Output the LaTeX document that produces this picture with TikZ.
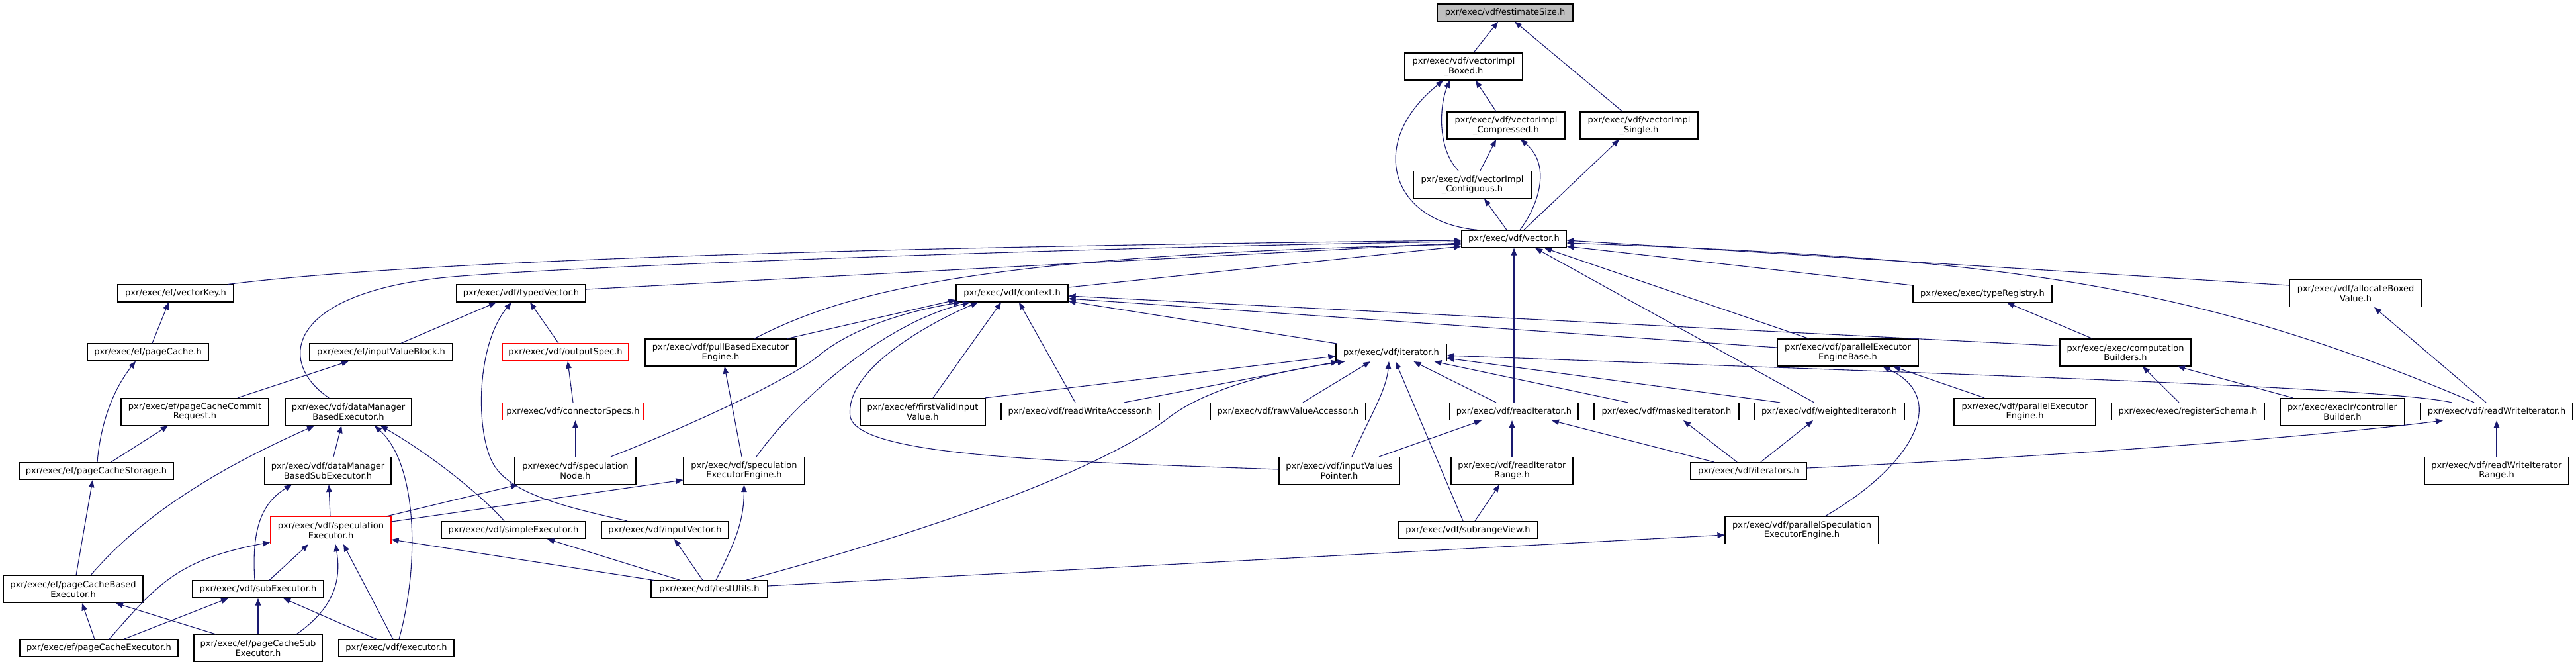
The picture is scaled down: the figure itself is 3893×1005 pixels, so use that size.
\documentclass[tikz,border=0pt]{standalone}
\usepackage{fontspec}
\setmainfont{DejaVu Sans}
\usetikzlibrary{arrows.meta,calc}
\definecolor{eblue}{RGB}{25,25,112}
\definecolor{rootgray}{RGB}{191,191,191}
\begin{document}
\begin{tikzpicture}[x=1pt,y=-1pt,
  nbox/.style={draw=black, line width=1.2pt, fill=white, inner sep=1pt, align=center,
    font=\fontsize{13}{14.5}\selectfont, minimum height=26pt},
  two/.style={minimum height=41pt},
  redbox/.style={draw=red},
  conn/.style={draw=eblue, line width=1.1pt, -{Triangle[length=11pt,width=8.5pt]}}]
\fill[white] (0,0) rectangle (3893,1005);
\useasboundingbox (0,0) rectangle (3893,1005);

% ---- nodes ----
\node[nbox,fill=rootgray,minimum width=205pt] (est) at (2274.5,19) {pxr/exec/vdf/estimateSize.h};
\node[nbox,two,minimum width=178pt] (boxed) at (2212,100.5) {pxr/exec/vdf/vectorImpl\\\_Boxed.h};
\node[nbox,two,minimum width=178pt] (compr) at (2276,189.5) {pxr/exec/vdf/vectorImpl\\\_Compressed.h};
\node[nbox,two,minimum width=178pt] (single) at (2477,189.5) {pxr/exec/vdf/vectorImpl\\\_Single.h};
\node[nbox,two,minimum width=178pt] (contig) at (2225,279) {pxr/exec/vdf/vectorImpl\\\_Contiguous.h};
\node[nbox,minimum width=158pt] (vector) at (2288,361) {pxr/exec/vdf/vector.h};

\node[nbox,minimum width=175pt] (vkey) at (265.5,443) {pxr/exec/ef/vectorKey.h};
\node[nbox,minimum width=195pt] (typed) at (787.5,443) {pxr/exec/vdf/typedVector.h};
\node[nbox,minimum width=169pt] (context) at (1529.5,443) {pxr/exec/vdf/context.h};
\node[nbox,minimum width=210pt] (typereg) at (2996,443.5) {pxr/exec/exec/typeRegistry.h};
\node[nbox,two,minimum width=200pt] (alloc) at (3560,443) {pxr/exec/vdf/allocateBoxed\\Value.h};

\node[nbox,minimum width=183pt] (pagecache) at (223.5,532) {pxr/exec/ef/pageCache.h};
\node[nbox,minimum width=216pt] (ivb) at (576,532) {pxr/exec/ef/inputValueBlock.h};
\node[nbox,redbox,minimum width=191pt] (outspec) at (854.5,532) {pxr/exec/vdf/outputSpec.h};
\node[nbox,two,minimum width=228pt] (pull) at (1089,532.5) {pxr/exec/vdf/pullBasedExecutor\\Engine.h};
\node[nbox,minimum width=167pt] (iter) at (2102.5,532.5) {pxr/exec/vdf/iterator.h};
\node[nbox,two,minimum width=213pt] (peebase) at (2792.5,532.5) {pxr/exec/vdf/parallelExecutor\\EngineBase.h};
\node[nbox,two,minimum width=198pt] (compb) at (3212,532.5) {pxr/exec/exec/computation\\Builders.h};

\node[nbox,two,minimum width=223pt] (commit) at (294.5,622) {pxr/exec/ef/pageCacheCommit\\Request.h};
\node[nbox,two,minimum width=191pt] (dmbe) at (526.5,622) {pxr/exec/vdf/dataManager\\BasedExecutor.h};
\node[nbox,redbox,minimum width=213pt] (connspec) at (866,621.5) {pxr/exec/vdf/connectorSpecs.h};
\node[nbox,two,minimum width=189pt] (firstvalid) at (1394.5,622) {pxr/exec/ef/firstValidInput\\Value.h};
\node[nbox,minimum width=239pt] (rwacc) at (1632.5,621.5) {pxr/exec/vdf/readWriteAccessor.h};
\node[nbox,minimum width=235pt] (rawacc) at (1946.5,621.5) {pxr/exec/vdf/rawValueAccessor.h};
\node[nbox,minimum width=194pt] (readiter) at (2288,621.5) {pxr/exec/vdf/readIterator.h};
\node[nbox,minimum width=219pt] (masked) at (2518.5,621.5) {pxr/exec/vdf/maskedIterator.h};
\node[nbox,minimum width=227pt] (weighted) at (2764.5,621.5) {pxr/exec/vdf/weightedIterator.h};
\node[nbox,two,minimum width=214pt] (peeng) at (3060,622) {pxr/exec/vdf/parallelExecutor\\Engine.h};
\node[nbox,minimum width=231pt] (regschema) at (3306.5,621.5) {pxr/exec/exec/registerSchema.h};
\node[nbox,two,minimum width=188pt] (ctrlb) at (3540,622) {pxr/exec/execIr/controller\\Builder.h};
\node[nbox,minimum width=230pt] (rwiter) at (3773,621.5) {pxr/exec/vdf/readWriteIterator.h};

\node[nbox,minimum width=233pt] (pcstorage) at (145.5,711.5) {pxr/exec/ef/pageCacheStorage.h};
\node[nbox,two,minimum width=191pt] (dmbse) at (495.5,711) {pxr/exec/vdf/dataManager\\BasedSubExecutor.h};
\node[nbox,two,minimum width=183pt] (specnode) at (869.5,711) {pxr/exec/vdf/speculation\\Node.h};
\node[nbox,two,minimum width=183pt] (specee) at (1124.5,711) {pxr/exec/vdf/speculation\\ExecutorEngine.h};
\node[nbox,two,minimum width=182pt] (ivp) at (2024,711) {pxr/exec/vdf/inputValues\\Pointer.h};
\node[nbox,two,minimum width=184pt] (riterrange) at (2285,711) {pxr/exec/vdf/readIterator\\Range.h};
\node[nbox,minimum width=175pt] (iters) at (2642.5,711.5) {pxr/exec/vdf/iterators.h};
\node[nbox,two,minimum width=218pt] (rwrange) at (3773,711) {pxr/exec/vdf/readWriteIterator\\Range.h};

\node[nbox,two,redbox,minimum width=182pt] (specexec) at (500,801) {pxr/exec/vdf/speculation\\Executor.h};
\node[nbox,minimum width=218pt] (simple) at (776,800.5) {pxr/exec/vdf/simpleExecutor.h};
\node[nbox,minimum width=192pt] (ivec) at (1005,800.5) {pxr/exec/vdf/inputVector.h};
\node[nbox,minimum width=211pt] (subrange) at (2218.5,800.5) {pxr/exec/vdf/subrangeView.h};
\node[nbox,two,minimum width=232pt] (parspec) at (2723,801) {pxr/exec/vdf/parallelSpeculation\\ExecutorEngine.h};

\node[nbox,two,minimum width=211pt] (pcbe) at (110.5,890) {pxr/exec/ef/pageCacheBased\\Executor.h};
\node[nbox,minimum width=198pt] (subexec) at (390,890) {pxr/exec/vdf/subExecutor.h};
\node[nbox,minimum width=176pt] (testutils) at (1072,890) {pxr/exec/vdf/testUtils.h};

\node[nbox,minimum width=239pt] (pcexec) at (149.5,979) {pxr/exec/ef/pageCacheExecutor.h};
\node[nbox,two,minimum width=194pt] (pcsub) at (390,979) {pxr/exec/ef/pageCacheSub\\Executor.h};
\node[nbox,minimum width=174pt] (executor) at (599,979) {pxr/exec/vdf/executor.h};

% ---- connectors (tail at includer, head at included) ----
\draw[conn] ($(boxed.north)+(15,0)$) -- ($(est.south)+(-10.5,0)$);
\draw[conn] ($(single.north)+(-25,0)$) -- ($(est.south)+(14.5,0)$);
\draw[conn] ($(compr.north)+(-15,0)$) -- ($(boxed.south)+(18,0)$);
\draw[conn] ($(contig.north)+(-21,0)$) .. controls (2172,225) and (2175,160) .. ($(boxed.south)+(-21,0)$);
\draw[conn] ($(vector.north)+(-55,0)$) .. controls (2100,335) and (2065,215) .. ($(boxed.south)+(-31,0)$);
\draw[conn] ($(contig.north)+(12,0)$) -- ($(compr.south)+(-15,0)$);
\draw[conn] ($(vector.north)+(9,0)$) .. controls (2325,310) and (2345,250) .. ($(compr.south)+(22,0)$);
\draw[conn] ($(vector.north)+(-11,0)$) -- ($(contig.south)+(18,0)$);
\draw[conn] ($(vector.north)+(15,0)$) -- ($(single.south)+(-30,0)$);

\draw[conn] ($(vkey.north)+(79.5,0)$) .. controls (700,385) and (1600,370) .. ($(vector.west)+(0,2)$);
\draw[conn] ($(typed.east)+(0,-6)$) -- ($(vector.west)+(0,6)$);
\draw[conn] ($(dmbe.north)+(-29.5,0)$) .. controls (415,545) and (435,440) .. (684,418) .. controls (900,400) and (1700,372) .. ($(vector.west)+(0,4)$);
\draw[conn] ($(pull.north)+(51,0)$) .. controls (1280,440) and (1480,385) .. ($(vector.west)+(0,8)$);
\draw[conn] ($(context.east)+(0,-9)$) -- ($(vector.west)+(0,11)$);
\draw[conn] ($(typereg.west)+(0,-12.5)$) -- ($(vector.east)+(0,11)$);
\draw[conn] ($(alloc.west)+(0,-12)$) -- ($(vector.east)+(0,2)$);
\draw[conn] ($(rwiter.north)+(-34,0)$) .. controls (3300,420) and (3000,390) .. ($(vector.east)+(0,6)$);
\draw[conn] ($(peebase.north)+(-59,0)$) -- ($(vector.south)+(46,0)$);
\draw[conn] ($(weighted.north)+(-23,0)$) -- ($(vector.south)+(32,0)$);
\draw[conn] (readiter.north) -- (vector.south);

\draw[conn] ($(pagecache.north)+(6.5,0)$) -- ($(vkey.south)+(-10.5,0)$);
\draw[conn] ($(ivb.north)+(30,0)$) -- ($(typed.south)+(-37.5,0)$);
\draw[conn] ($(outspec.north)+(-10.5,0)$) -- ($(typed.south)+(13.5,0)$);
\draw[conn] ($(ivec.north)+(-57,0)$) .. controls (850,765) and (770,745) .. (745,700) .. controls (718,650) and (720,520) .. ($(typed.south)+(-14.5,0)$);
\draw[conn] (connspec.north) -- ($(outspec.south)+(3.5,0)$);
\draw[conn] (specnode.north) -- ($(connspec.south)+(3.5,0)$);
\draw[conn] ($(commit.north)+(64.5,0)$) -- ($(ivb.south)+(-49,0)$);
\draw[conn] ($(pcstorage.north)+(1.5,0)$) .. controls (152,640) and (170,590) .. ($(pagecache.south)+(-18.5,0)$);
\draw[conn] ($(pcstorage.north)+(22.5,0)$) -- ($(commit.south)+(-40.5,0)$);
\draw[conn] ($(pcbe.north)+(4.5,0)$) -- ($(pcstorage.south)+(-5.5,0)$);
\draw[conn] ($(pcbe.north)+(26.5,0)$) .. controls (230,760) and (370,690) .. ($(dmbe.south)+(-51.5,0)$);
\draw[conn] ($(dmbse.north)+(8.5,0)$) -- ($(dmbe.south)+(-10.5,0)$);
\draw[conn] ($(executor.north)+(4,0)$) .. controls (635,850) and (630,700) .. ($(dmbe.south)+(39.5,0)$);
\draw[conn] ($(simple.north)+(-14,0)$) .. controls (720,740) and (640,680) .. ($(dmbe.south)+(48.5,0)$);
\draw[conn] ($(subexec.north)+(-5,0)$) .. controls (380,800) and (395,760) .. ($(dmbse.south)+(-54.5,0)$);
\draw[conn] ($(specexec.north)+(-1,0)$) -- ($(dmbse.south)+(1.5,0)$);
\draw[conn] ($(specexec.north)+(84,0)$) -- ($(specnode.south)+(-86.5,0)$);
\draw[conn] ($(specexec.east)+(0,-13)$) -- ($(specee.west)+(0,14)$);
\draw[conn] ($(pcexec.north)+(15.5,0)$) .. controls (240,880) and (270,845) .. ($(specexec.west)+(0,18)$);
\draw[conn] ($(subexec.north)+(17,0)$) -- ($(specexec.south)+(-34,0)$);
\draw[conn] ($(pcsub.north)+(58,0)$) .. controls (510,915) and (515,870) .. ($(specexec.south)+(7,0)$);
\draw[conn] ($(executor.north)+(-5,0)$) -- ($(specexec.south)+(19,0)$);
\draw[conn] ($(testutils.north)+(-84,0)$) -- ($(specexec.east)+(0,14)$);
\draw[conn] ($(pcexec.north)+(37.5,0)$) -- ($(subexec.south)+(-45,0)$);
\draw[conn] (pcsub.north) -- (subexec.south);
\draw[conn] ($(executor.north)+(-30,0)$) -- ($(subexec.south)+(38,0)$);
\draw[conn] ($(pcexec.north)+(-6.5,0)$) -- ($(pcbe.south)+(13.5,0)$);
\draw[conn] ($(pcsub.north)+(-64,0)$) -- ($(pcbe.south)+(64.5,0)$);
\draw[conn] ($(testutils.north)+(-44,0)$) -- ($(simple.south)+(51,0)$);
\draw[conn] ($(testutils.north)+(-10,0)$) -- ($(ivec.south)+(14,0)$);
\draw[conn] ($(testutils.north)+(10,0)$) .. controls (1110,820) and (1124,790) .. (specee.south);
\draw[conn] ($(testutils.north)+(55,0)$) .. controls (1450,790) and (1680,700) .. (1770,628) .. controls (1830,585) and (1930,560) .. ($(iter.south)+(-70,0)$);
\draw[conn] ($(testutils.east)+(0,-5)$) -- ($(parspec.west)+(0,7)$);

\draw[conn] ($(specee.north)+(-3.5,0)$) -- ($(pull.south)+(6,0)$);
\draw[conn] ($(specee.north)+(18.5,0)$) .. controls (1200,610) and (1330,490) .. ($(context.south)+(-63.5,0)$);
\draw[conn] ($(pull.north)+(101,0)$) -- ($(context.west)+(0,10)$);
\draw[conn] ($(specnode.north)+(53.5,0)$) .. controls (1050,640) and (1200,570) .. (1240,535) .. controls (1290,495) and (1370,470) .. ($(context.south)+(-77.5,0)$);
\draw[conn] ($(ivp.west)+(0,-2)$) .. controls (1600,697) and (1300,690) .. (1285,630) .. controls (1275,560) and (1400,490) .. ($(context.south)+(-51.5,0)$);
\draw[conn] ($(firstvalid.north)+(15.5,0)$) -- ($(context.south)+(-16.5,0)$);
\draw[conn] ($(rwacc.north)+(-7.5,0)$) -- ($(context.south)+(10.5,0)$);
\draw[conn] ($(compb.west)+(0,-10)$) -- ($(context.east)+(0,4)$);
\draw[conn] ($(peebase.west)+(0,-7.5)$) -- ($(context.east)+(0,8)$);
\draw[conn] ($(iter.north)+(-82.5,0)$) -- ($(context.east)+(0,12)$);

\draw[conn] ($(firstvalid.north)+(94.5,0)$) -- ($(iter.west)+(0,5.5)$);
\draw[conn] ($(rwacc.north)+(66.5,0)$) -- ($(iter.south)+(-80,0)$);
\draw[conn] ($(rawacc.north)+(22.5,0)$) -- ($(iter.south)+(-31.5,0)$);
\draw[conn] ($(ivp.north)+(19,0)$) .. controls (2070,630) and (2095,590) .. ($(iter.south)+(-3.5,0)$);
\draw[conn] ($(subrange.north)+(-7.5,0)$) -- ($(iter.south)+(6.5,0)$);
\draw[conn] ($(readiter.north)+(-27,0)$) -- ($(iter.south)+(34,0)$);
\draw[conn] ($(masked.north)+(-58.5,0)$) -- ($(iter.south)+(65,0)$);
\draw[conn] ($(weighted.north)+(-74.5,0)$) -- ($(iter.east)+(0,8.5)$);
\draw[conn] ($(rwiter.north)+(-68,0)$) .. controls (3600,585) and (3000,567) .. ($(iter.east)+(0,4.5)$);

\draw[conn] ($(ivp.north)+(60,0)$) -- ($(readiter.south)+(-49,0)$);
\draw[conn] (riterrange.north) -- (riterrange.north |- readiter.south);
\draw[conn] ($(iters.north)+(-52.5,0)$) -- ($(readiter.south)+(57,0)$);
\draw[conn] ($(iters.north)+(-17.5,0)$) -- ($(masked.south)+(25.5,0)$);
\draw[conn] ($(iters.north)+(18.5,0)$) -- ($(weighted.south)+(-24.5,0)$);
\draw[conn] ($(iters.east)+(0,-4.5)$) .. controls (3100,690) and (3500,660) .. ($(rwiter.south)+(-81,0)$);
\draw[conn] ($(subrange.north)+(10.5,0)$) -- ($(riterrange.south)+(-19,0)$);
\draw[conn] ($(parspec.north)+(35,0)$) .. controls (2895,700) and (2945,600) .. ($(peebase.south)+(52.5,0)$);
\draw[conn] ($(peeng.north)+(-61,0)$) -- ($(peebase.south)+(68.5,0)$);
\draw[conn] ($(compb.north)+(-50,0)$) -- ($(typereg.south)+(37,0)$);
\draw[conn] ($(regschema.north)+(-13.5,0)$) -- ($(compb.south)+(26,0)$);
\draw[conn] ($(ctrlb.north)+(-75,0)$) -- ($(compb.south)+(79,0)$);
\draw[conn] ($(rwiter.north)+(-16,0)$) -- ($(alloc.south)+(28,0)$);
\draw[conn] (rwrange.north) -- (rwiter.south);
\end{tikzpicture}
\end{document}
